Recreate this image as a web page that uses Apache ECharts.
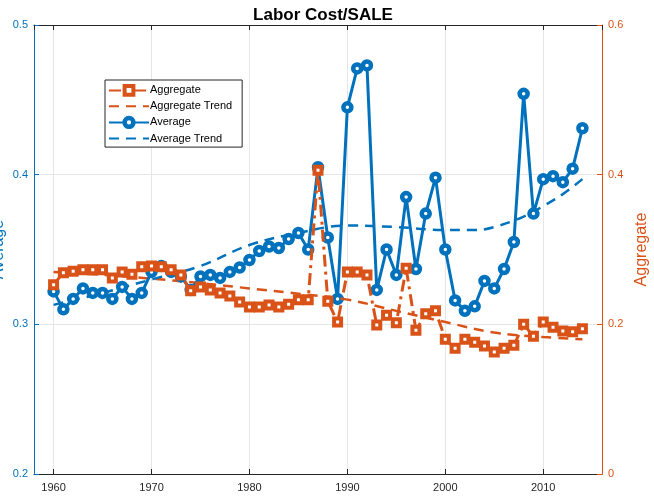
<!DOCTYPE html>
<html>
<head>
<meta charset="utf-8">
<script src="https://cdn.jsdelivr.net/npm/echarts@6/dist/echarts.min.js"></script>
<style>
  html, body { margin: 0; padding: 0; background: #fff; }
  #chart { width: 654px; height: 498px; }
</style>
</head>
<body>
<div id="chart"></div>
<script>
// 年份
var years = [1960, 1961, 1962, 1963, 1964, 1965, 1966, 1967, 1968, 1969,
  1970, 1971, 1972, 1973, 1974, 1975, 1976, 1977, 1978, 1979,
  1980, 1981, 1982, 1983, 1984, 1985, 1986, 1987, 1988, 1989,
  1990, 1991, 1992, 1993, 1994, 1995, 1996, 1997, 1998, 1999,
  2000, 2001, 2002, 2003, 2004, 2005, 2006, 2007, 2008, 2009,
  2010, 2011, 2012, 2013, 2014];

// Average（左轴）
var average = [0.322, 0.310, 0.317, 0.324, 0.321, 0.321, 0.317, 0.325, 0.317, 0.321,
  0.335, 0.339, 0.335, 0.332, 0.323, 0.332, 0.333, 0.331, 0.335, 0.338,
  0.343, 0.349, 0.352, 0.351, 0.357, 0.361, 0.350, 0.405, 0.358, 0.317,
  0.445, 0.471, 0.473, 0.323, 0.350, 0.333, 0.385, 0.337, 0.374, 0.398,
  0.350, 0.316, 0.309, 0.312, 0.329, 0.324, 0.337, 0.355, 0.454, 0.374,
  0.397, 0.399, 0.395, 0.404, 0.431];

// Aggregate（右轴）
var aggregate = [0.253, 0.269, 0.271, 0.273, 0.273, 0.273, 0.262, 0.270, 0.267, 0.277,
  0.278, 0.277, 0.273, 0.266, 0.245, 0.250, 0.246, 0.242, 0.238, 0.230,
  0.223, 0.223, 0.226, 0.223, 0.227, 0.233, 0.233, 0.406, 0.231, 0.203,
  0.270, 0.270, 0.266, 0.199, 0.212, 0.202, 0.275, 0.192, 0.214, 0.218,
  0.180, 0.168, 0.180, 0.176, 0.171, 0.163, 0.168, 0.172, 0.200, 0.184,
  0.203, 0.196, 0.191, 0.190, 0.194];

// 趋势线（从图上读的几个点）
var avgTrendYears = [1960, 1965, 1970, 1975, 1980, 1985, 1990, 1995, 2000, 2003, 2005, 2008, 2010, 2012, 2014];
var avgTrend = [0.313, 0.321, 0.330, 0.339, 0.353, 0.361, 0.366, 0.365, 0.363, 0.363, 0.365, 0.372, 0.379, 0.387, 0.397];
var aggTrendYears = [1960, 1965, 1970, 1975, 1980, 1985, 1990, 1995, 2000, 2005, 2010, 2014];
var aggTrend = [0.270, 0.266, 0.261, 0.255, 0.248, 0.241, 0.233, 0.218, 0.203, 0.189, 0.183, 0.180];

var BLUE = '#0072BD';
var ORANGE = '#D95319';
var DARK = '#262626';
var FONT = '"Liberation Sans", Arial, sans-serif';
var AGG_DASH = [12, 5, 3, 5];   // 点划线

function pairs(xs, ys) {
  return xs.map(function (x, i) { return [x, ys[i]]; });
}

var myChart = echarts.init(document.getElementById('chart'), null, { renderer: 'canvas' });

var option = {
  animation: false,
  textStyle: { fontFamily: FONT },
  title: {
    text: 'Labor Cost/SALE',
    left: 318,
    top: 2,
    textAlign: 'center',
    textStyle: { fontSize: 17, fontWeight: 'bold', color: '#000', fontFamily: FONT }
  },
  legend: {
    orient: 'vertical',
    left: 105,
    top: 80,
    itemWidth: 40,
    itemHeight: 11,
    itemGap: 4,
    padding: [4, 10, 3, 3],
    borderColor: DARK,
    borderWidth: 1,
    backgroundColor: '#fff',
    textStyle: { fontSize: 11, color: '#000', fontFamily: FONT, padding: [0, 0, 0, -4] },
    data: [
      { name: 'Aggregate', itemStyle: { color: '#fff', borderColor: ORANGE, borderWidth: 4 }, lineStyle: { type: AGG_DASH } },
      { name: 'Aggregate Trend', itemStyle: { opacity: 0 } },
      { name: 'Average', itemStyle: { color: '#fff', borderColor: BLUE, borderWidth: 4.5 } },
      { name: 'Average Trend', itemStyle: { opacity: 0 } }
    ]
  },
  grid: { left: 34, right: 52, top: 25, bottom: 24, containLabel: false, outerBoundsMode: 'none' },
  xAxis: [{
    type: 'value',
    min: 1958,
    max: 2016,
    splitNumber: 5,
    axisLine: { show: true, lineStyle: { color: DARK, width: 1 } },
    axisTick: { show: true, inside: true, length: 5, lineStyle: { color: DARK } },
    axisLabel: { color: DARK, fontSize: 11, showMinLabel: false, showMaxLabel: false, margin: 8,
      formatter: function (v) { return String(v); } },
    splitLine: { show: true, lineStyle: { color: '#e6e6e6', width: 1 } }
  }, {
    type: 'value',
    position: 'top',
    min: 1958,
    max: 2016,
    splitNumber: 5,
    axisLine: { show: true, lineStyle: { color: DARK, width: 1 } },
    axisTick: { show: true, inside: true, length: 5, lineStyle: { color: DARK } },
    axisLabel: { show: false },
    splitLine: { show: false }
  }],
  yAxis: [{
    type: 'value',
    position: 'left',
    min: 0.2,
    max: 0.5,
    interval: 0.1,
    name: 'Average',
    nameLocation: 'middle',
    nameGap: 27,
    nameMoveOverlap: false,
    nameTextStyle: { color: BLUE, fontSize: 16, fontFamily: FONT },
    axisLine: { show: true, lineStyle: { color: BLUE, width: 1 } },
    axisTick: { show: true, inside: true, length: 5, lineStyle: { color: BLUE } },
    axisLabel: { color: BLUE, fontSize: 11, margin: 6, formatter: function (v) { return v.toFixed(1); } },
    splitLine: { show: true, lineStyle: { color: '#e6e6e6', width: 1 } }
  }, {
    type: 'value',
    position: 'right',
    min: 0,
    max: 0.6,
    interval: 0.2,
    name: 'Aggregate',
    nameLocation: 'middle',
    nameGap: 32,
    nameRotate: 90,
    nameMoveOverlap: false,
    nameTextStyle: { color: ORANGE, fontSize: 16, fontFamily: FONT },
    axisLine: { show: true, lineStyle: { color: ORANGE, width: 1 } },
    axisTick: { show: true, inside: true, length: 5, lineStyle: { color: ORANGE } },
    axisLabel: { color: ORANGE, fontSize: 11, margin: 6, formatter: function (v) { return v === 0 ? '0' : v.toFixed(1); } },
    splitLine: { show: false }
  }],
  series: [{
    name: 'Aggregate',
    type: 'line',
    yAxisIndex: 1,
    data: pairs(years, aggregate),
    symbol: 'rect',
    symbolSize: 7,
    itemStyle: { color: '#fff', borderColor: ORANGE, borderWidth: 4 },
    lineStyle: { color: ORANGE, width: 3, type: AGG_DASH },
    z: 3
  }, {
    name: 'Aggregate Trend',
    type: 'line',
    yAxisIndex: 1,
    data: pairs(aggTrendYears, aggTrend),
    smooth: 0.4,
    symbol: 'none',
    itemStyle: { color: ORANGE },
    lineStyle: { color: ORANGE, width: 2.5, type: [10, 7] },
    z: 2
  }, {
    name: 'Average',
    type: 'line',
    yAxisIndex: 0,
    data: pairs(years, average),
    symbol: 'circle',
    symbolSize: 8,
    itemStyle: { color: '#fff', borderColor: BLUE, borderWidth: 4.5 },
    lineStyle: { color: BLUE, width: 3 },
    z: 2
  }, {
    name: 'Average Trend',
    type: 'line',
    yAxisIndex: 0,
    data: pairs(avgTrendYears, avgTrend),
    smooth: 0.4,
    symbol: 'none',
    itemStyle: { color: BLUE },
    lineStyle: { color: BLUE, width: 2.5, type: [10, 7] },
    z: 2
  }]
};

myChart.setOption(option);
</script>
</body>
</html>
